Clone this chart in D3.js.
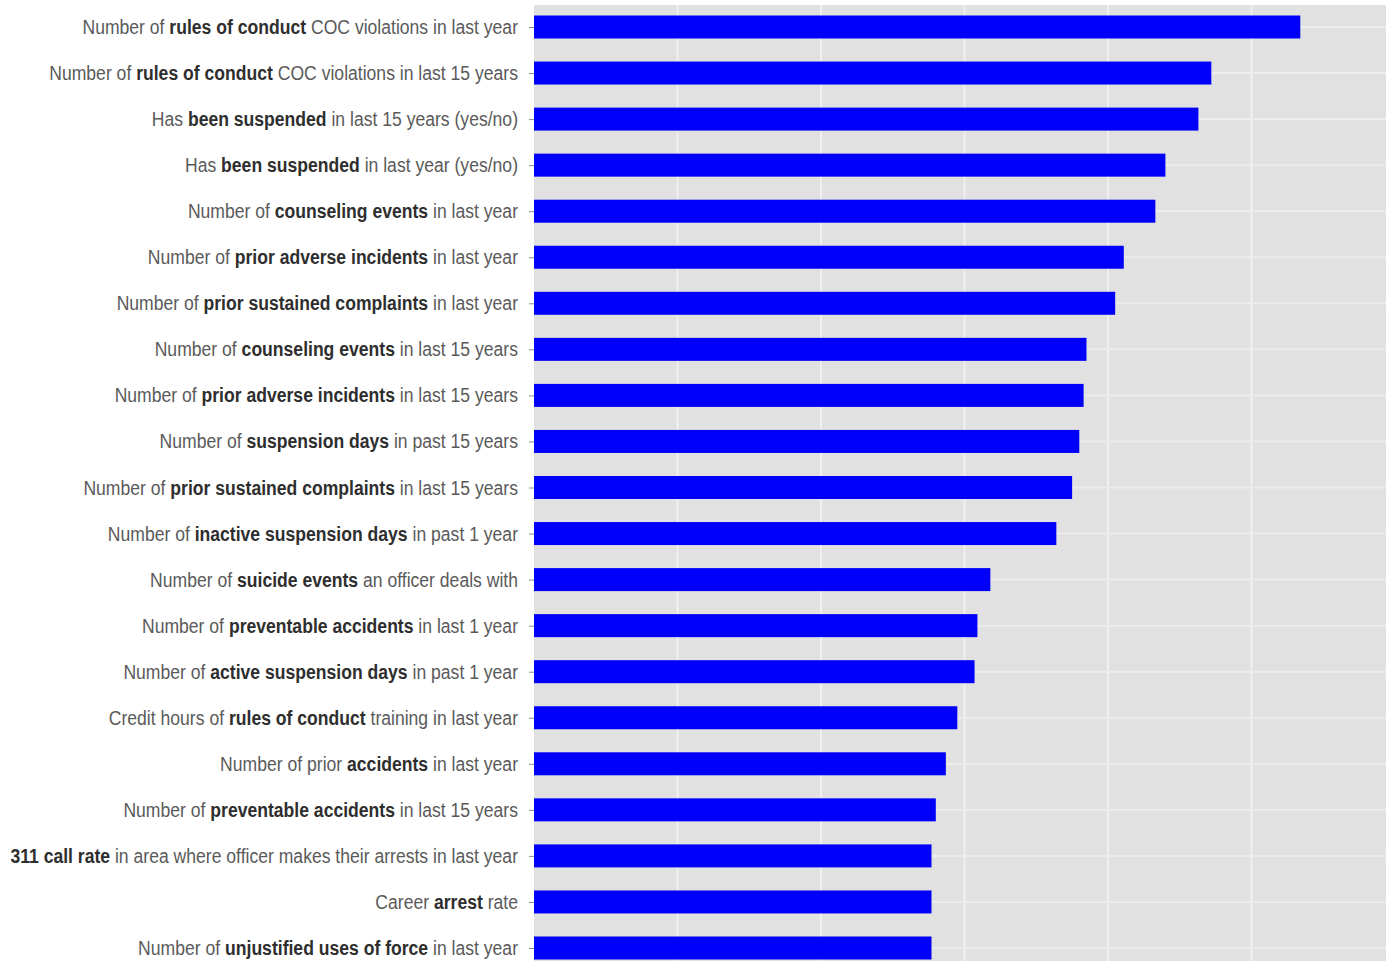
<!DOCTYPE html>
<html>
<head>
<meta charset="utf-8">
<script src="https://cdn.jsdelivr.net/npm/d3@7"></script>
<style>
  body { margin: 0; background: #fff; }
  #chart-area { width: 1386px; height: 961px; overflow: hidden; }
  .lab { font-family: "Liberation Sans", Arial, sans-serif; font-size: 21px; fill: #5a5a5a; }
  .lab .b { font-weight: bold; fill: #2e2e2e; }
</style>
</head>
<body>
<div id="chart-area"></div>
<script>
// ** marks the bold part of each label
const labels = [
  "Number of **rules of conduct** COC violations in last year",
  "Number of **rules of conduct** COC violations in last 15 years",
  "Has **been suspended** in last 15 years (yes/no)",
  "Has **been suspended** in last year (yes/no)",
  "Number of **counseling events** in last year",
  "Number of **prior adverse incidents** in last year",
  "Number of **prior sustained complaints** in last year",
  "Number of **counseling events** in last 15 years",
  "Number of **prior adverse incidents** in last 15 years",
  "Number of **suspension days** in past 15 years",
  "Number of **prior sustained complaints** in last 15 years",
  "Number of **inactive suspension days** in past 1 year",
  "Number of **suicide events** an officer deals with",
  "Number of **preventable accidents** in last 1 year",
  "Number of **active suspension days** in past 1 year",
  "Credit hours of **rules of conduct** training in last year",
  "Number of prior **accidents** in last year",
  "Number of **preventable accidents** in last 15 years",
  "**311 call rate** in area where officer makes their arrests in last year",
  "Career **arrest** rate",
  "Number of **unjustified uses of force** in last year"
];

const importance = [
  0.0534, 0.0472, 0.0463, 0.0440, 0.0433, 0.0411, 0.0405,
  0.0385, 0.0383, 0.0380, 0.0375, 0.0364, 0.0318, 0.0309,
  0.0307, 0.0295, 0.0287, 0.0280, 0.0277, 0.0277, 0.0277
];

const gridValues = [0.01, 0.02, 0.03, 0.04, 0.05];

const data = labels.map((l, i) => ({ label: l, value: importance[i] }));

const W = 1386, H = 961;
const panelLeft = 534, panelTop = 5;
const step = 46.05;

const svg = d3.select("#chart-area").append("svg")
  .attr("width", W).attr("height", H);

const x = d3.scaleLinear()
  .domain([0, (W - panelLeft) / 143.5 * 0.01])
  .range([panelLeft, W]);

const y = d3.scalePoint()
  .domain(labels)
  .range([27, 27 + (labels.length - 1) * step]);

const barH = 23;

// panel
svg.append("rect")
  .attr("x", panelLeft).attr("y", panelTop)
  .attr("width", W - panelLeft).attr("height", H - panelTop)
  .attr("fill", "#e1e1e1");

// grid
svg.append("g").selectAll("line.v")
  .data(gridValues).join("line")
  .attr("x1", d => x(d)).attr("x2", d => x(d))
  .attr("y1", panelTop).attr("y2", H)
  .attr("stroke", "#f0f0f0").attr("stroke-width", 2);

svg.append("g").selectAll("line.h")
  .data(labels).join("line")
  .attr("x1", panelLeft).attr("x2", W)
  .attr("y1", d => y(d)).attr("y2", d => y(d))
  .attr("stroke", "#ececec").attr("stroke-width", 2);

// bars
svg.append("g").selectAll("rect")
  .data(data).join("rect")
  .attr("x", x(0))
  .attr("y", d => y(d.label) - barH / 2)
  .attr("width", d => x(d.value) - x(0))
  .attr("height", barH)
  .attr("fill", "#0000fa");

// y axis: ticks + labels
const yAxis = d3.axisLeft(y).tickSize(5).tickPadding(9).tickFormat("");
const yAxisGroup = svg.append("g")
  .attr("transform", "translate(" + panelLeft + ",0)")
  .call(yAxis);
yAxisGroup.select(".domain").remove();
yAxisGroup.selectAll(".tick line").attr("stroke", "#8a8a8a");

const labelG = svg.append("g");
data.forEach(d => {
  const t = labelG.append("g")
    .attr("transform", "translate(518," + (y(d.label) + 7) + ") scale(0.837,1)")
    .append("text")
    .attr("class", "lab")
    .attr("text-anchor", "end");
  d.label.split("**").forEach((part, i) => {
    if (!part) return;
    t.append("tspan").attr("class", i % 2 ? "b" : null).text(part);
  });
});
</script>
</body>
</html>
